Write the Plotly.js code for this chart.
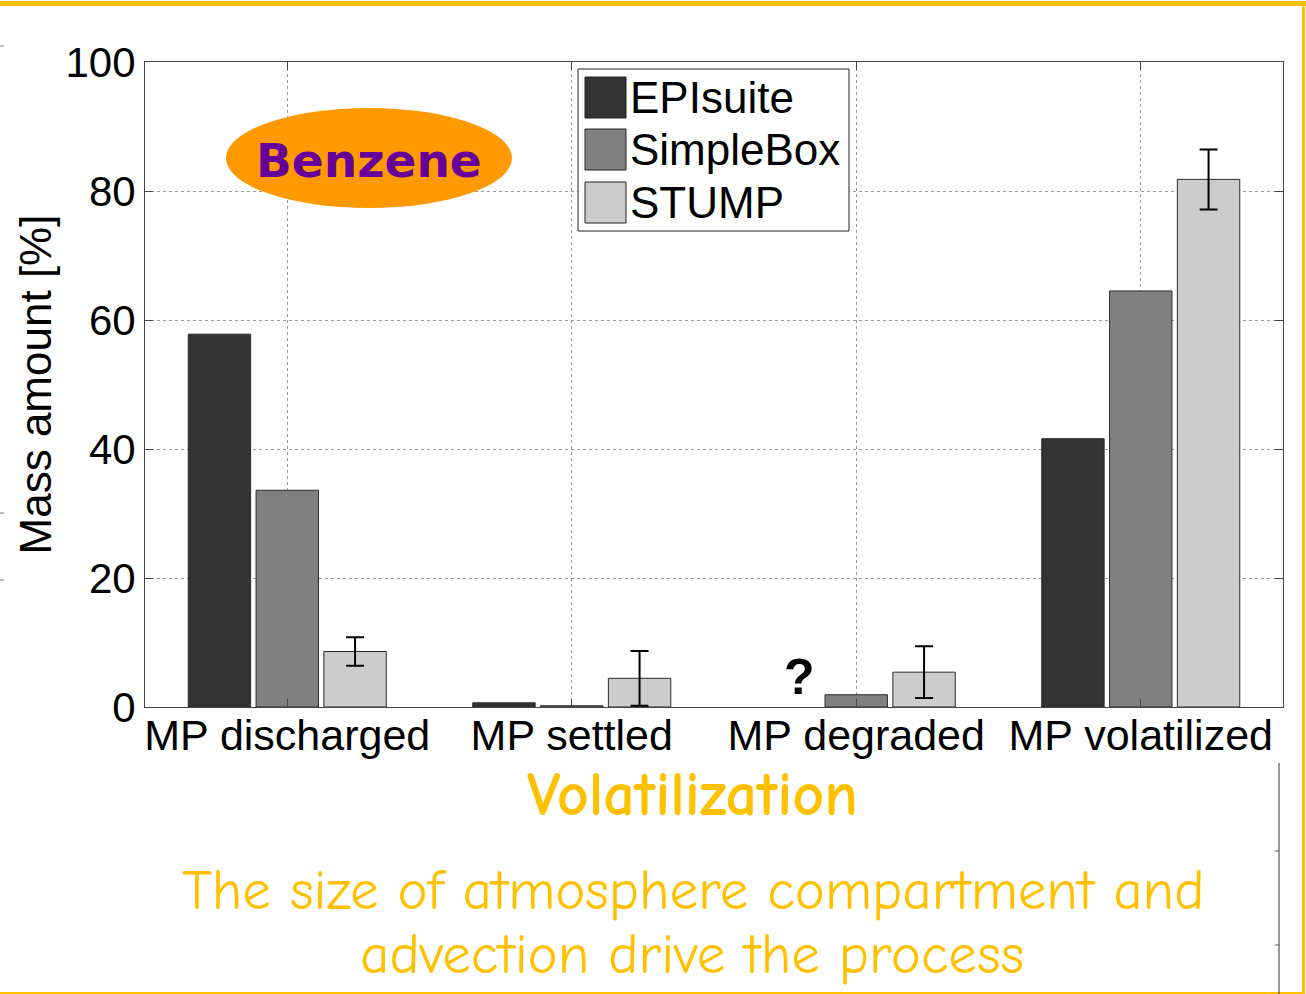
<!DOCTYPE html>
<html>
<head>
<meta charset="utf-8">
<script src="https://cdn.plot.ly/plotly-3.0.1.min.js"></script>
<style>
html,body{margin:0;padding:0;background:#fff;}
#chart{width:1306px;height:994px;}
</style>
</head>
<body>
<div id="chart"></div>
<script>
// ---- data ----
var categories = ["MP discharged", "MP settled", "MP degraded", "MP volatilized"];
var seriesNames = ["EPIsuite", "SimpleBox", "STUMP"];
var epiSuite = [57.8, 0.65, null, 41.6];
var simpleBox = [33.6, 0.2, 1.9, 64.5];
var stump = [8.6, 4.45, 5.4, 81.8];
var stumpErr = [2.2, 4.25, 4.0, 4.65];
var yTicks = [0, 20, 40, 60, 80, 100];
var seriesColors = ["#333333", "#808080", "#cccccc"];

// ---- geometry helpers (pixel -> paper) ----
var L = 145, R = 1283, T = 62, B = 707;
function X(px){ return (px - L) / (R - L); }
function Y(py){ return (B - py) / (B - T); }

var fontMain = "Arial, 'Liberation Sans', sans-serif";
var fontComic = "'Comic Sans MS', 'Comic Neue', 'Noto Sans', sans-serif";
var yellow = "#ffc000";

function barTrace(name, vals, color, err){
  var t = {
    type: "bar", name: name, x: categories, y: vals,
    marker: {color: color, line: {color: "#2a2a2a", width: 1}},
    showlegend: false, hoverinfo: "x+y+name"
  };
  if (err) {
    t.error_y = {type: "data", array: err, visible: true, color: "#000", thickness: 2, width: 9};
  }
  return t;
}

var data = [
  barTrace(seriesNames[0], epiSuite, seriesColors[0]),
  barTrace(seriesNames[1], simpleBox, seriesColors[1]),
  barTrace(seriesNames[2], stump, seriesColors[2], stumpErr)
];

var shapes = [];
var annotations = [];

// Benzene ellipse
shapes.push({type: "circle", xref: "paper", yref: "paper", layer: "above",
  x0: X(226), x1: X(512), y0: Y(208), y1: Y(108),
  fillcolor: "#ff9900", line: {width: 0}});
annotations.push({xref: "paper", yref: "paper", x: X(369), y: Y(160), showarrow: false,
  text: "<b>Benzene</b>", font: {family: "Verdana, 'DejaVu Sans', sans-serif", size: 47, color: "#660099"},
  xanchor: "center", yanchor: "middle"});

// custom legend
shapes.push({type: "rect", xref: "paper", yref: "paper", layer: "above",
  x0: X(578), x1: X(849), y0: Y(231), y1: Y(69),
  fillcolor: "#fff", line: {color: "#222", width: 1}});
var swTop = [77, 129, 182];
for (var i = 0; i < seriesNames.length; i++) {
  shapes.push({type: "rect", xref: "paper", yref: "paper", layer: "above",
    x0: X(585), x1: X(626), y0: Y(swTop[i] + 41), y1: Y(swTop[i]),
    fillcolor: seriesColors[i], line: {color: "#222", width: 1}});
  annotations.push({xref: "paper", yref: "paper", x: X(628), y: Y(swTop[i] + 20), showarrow: false,
    text: seriesNames[i], font: {family: fontMain, size: 44, color: "#000"},
    xanchor: "left", yanchor: "middle"});
}

// question mark over missing EPIsuite degraded bar
annotations.push({x: categories[2], y: 4.7, xref: "x", yref: "y", xshift: -57, showarrow: false,
  text: "<b>?</b>", font: {family: fontMain, size: 50, color: "#000"},
  xanchor: "center", yanchor: "middle"});

// Volatilization label
annotations.push({xref: "paper", yref: "paper", x: X(692), y: Y(795), showarrow: false,
  text: "<b>Volatilization</b>", font: {family: fontComic, size: 62, color: yellow},
  xanchor: "center", yanchor: "middle"});
// bottom statement
annotations.push({xref: "paper", yref: "paper", x: X(693), y: Y(890), showarrow: false,
  text: "The size of atmosphere compartment and", font: {family: fontComic, size: 57, color: yellow},
  xanchor: "center", yanchor: "middle"});
annotations.push({xref: "paper", yref: "paper", x: X(692), y: Y(955), showarrow: false,
  text: "advection drive the process", font: {family: fontComic, size: 57, color: yellow},
  xanchor: "center", yanchor: "middle"});

// slide frame
shapes.push({type: "rect", xref: "paper", yref: "paper", layer: "above",
  x0: X(-5), x1: X(1306), y0: Y(6), y1: Y(1), fillcolor: yellow, line: {width: 0}});
shapes.push({type: "rect", xref: "paper", yref: "paper", layer: "above",
  x0: X(1302), x1: X(1305), y0: Y(994), y1: Y(1), fillcolor: yellow, line: {width: 0}});
shapes.push({type: "rect", xref: "paper", yref: "paper", layer: "above",
  x0: X(-5), x1: X(1305), y0: Y(994), y1: Y(992), fillcolor: yellow, line: {width: 0}});
// leftover axis fragment at the lower right
shapes.push({type: "line", xref: "paper", yref: "paper", layer: "above",
  x0: X(1279), x1: X(1279), y0: Y(763), y1: Y(994), line: {color: "#333", width: 1}});
[851, 945].forEach(function(py){
  shapes.push({type: "line", xref: "paper", yref: "paper", layer: "above",
    x0: X(1275), x1: X(1279), y0: Y(py), y1: Y(py), line: {color: "#555", width: 1}});
});
// leftover tick marks at the left edge
[46, 513, 580].forEach(function(py){
  shapes.push({type: "line", xref: "paper", yref: "paper", layer: "above",
    x0: X(0), x1: X(4), y0: Y(py), y1: Y(py), line: {color: "#777", width: 1}});
});

var layout = {
  width: 1306, height: 994,
  margin: {l: L, r: 1306 - R, t: T, b: 994 - B, pad: 0},
  paper_bgcolor: "#fff", plot_bgcolor: "#fff",
  barmode: "group", bargap: 0.285, bargroupgap: 0.08,
  showlegend: false,
  xaxis: {
    type: "category", range: [-0.5, 3.5],
    showline: true, linecolor: "#444", linewidth: 1, mirror: "allticks",
    ticks: "inside", ticklen: 8, tickcolor: "#444",
    showgrid: true, gridcolor: "#999", griddash: "dot", gridwidth: 1,
    tickfont: {family: fontMain, size: 43, color: "#000"},
    ticklabelstandoff: -10,
    automargin: false
  },
  yaxis: {
    range: [0, 100], tickvals: yTicks, ticktext: yTicks.map(String),
    showline: true, linecolor: "#444", linewidth: 1, mirror: "allticks",
    ticks: "inside", ticklen: 8, tickcolor: "#444",
    showgrid: true, gridcolor: "#999", griddash: "dot", gridwidth: 1,
    zeroline: false,
    tickfont: {family: fontMain, size: 42, color: "#000"},
    title: {text: "Mass amount [%]", font: {family: fontMain, size: 44, color: "#000"}, standoff: 0},
    automargin: false
  },
  shapes: shapes,
  annotations: annotations
};

Plotly.newPlot("chart", data, layout, {displayModeBar: false, responsive: false});
</script>
</body>
</html>
